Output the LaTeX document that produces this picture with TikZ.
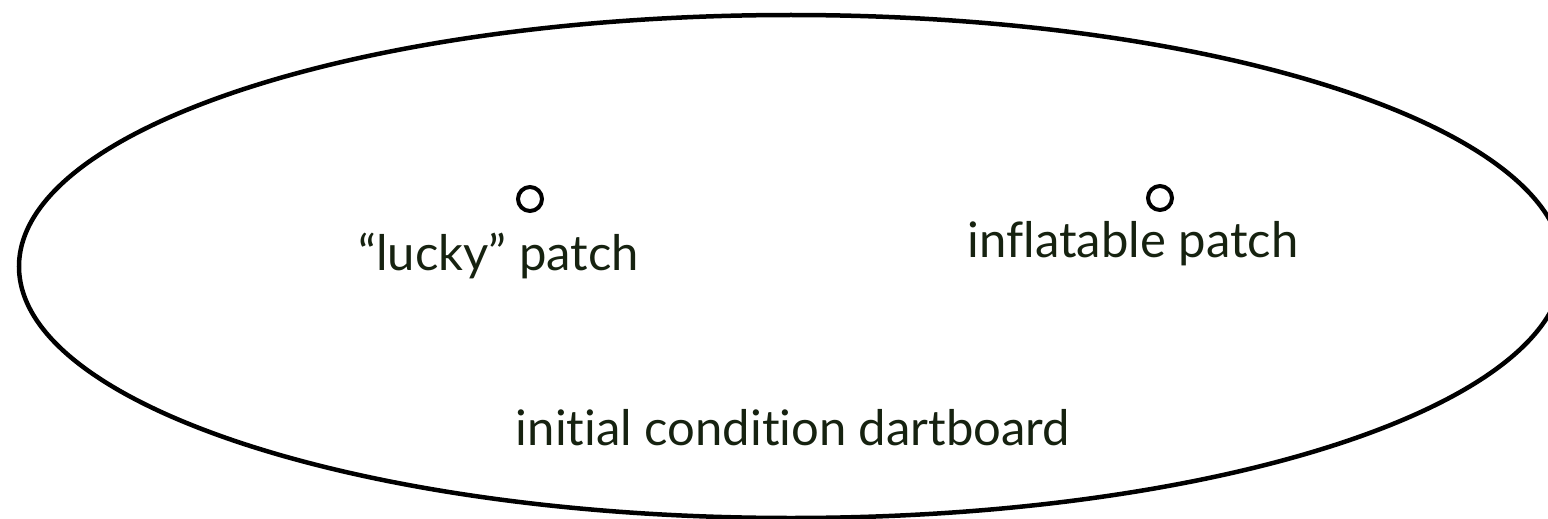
\documentclass[tikz,border=0pt]{standalone}
\usepackage{fontspec}
\setmainfont{Lato}[RawFeature={-liga;-dlig}]
\usetikzlibrary{shapes.geometric}
\definecolor{textcol}{RGB}{22,34,16}
\tikzset{
  board/.style={draw=black, ellipse, line width=4.5pt, inner sep=0pt},
  patch/.style={draw=black, circle, line width=4pt, minimum size=24pt, inner sep=0pt},
  label/.style={text=textcol, font=\fontsize{49}{59}\selectfont, anchor=base, inner sep=0pt}
}
\begin{document}
\begin{tikzpicture}[x=1pt, y=-1pt]
\useasboundingbox (0,0) rectangle (1548,519);
\node[board, minimum width=1544pt, minimum height=503pt] (board) at (791,266.5) {};
\node[patch] (lucky) at (530,199) {};
\node[patch] (infl) at (1160,198) {};
\node[label] (luckytext) at (498.5,270) {“lucky” patch};
\node[label] (infltext) at (1133,257) {inflatable patch};
\node[label] (boardtext) at (793,445) {initial condition dartboard};
\end{tikzpicture}
\end{document}
